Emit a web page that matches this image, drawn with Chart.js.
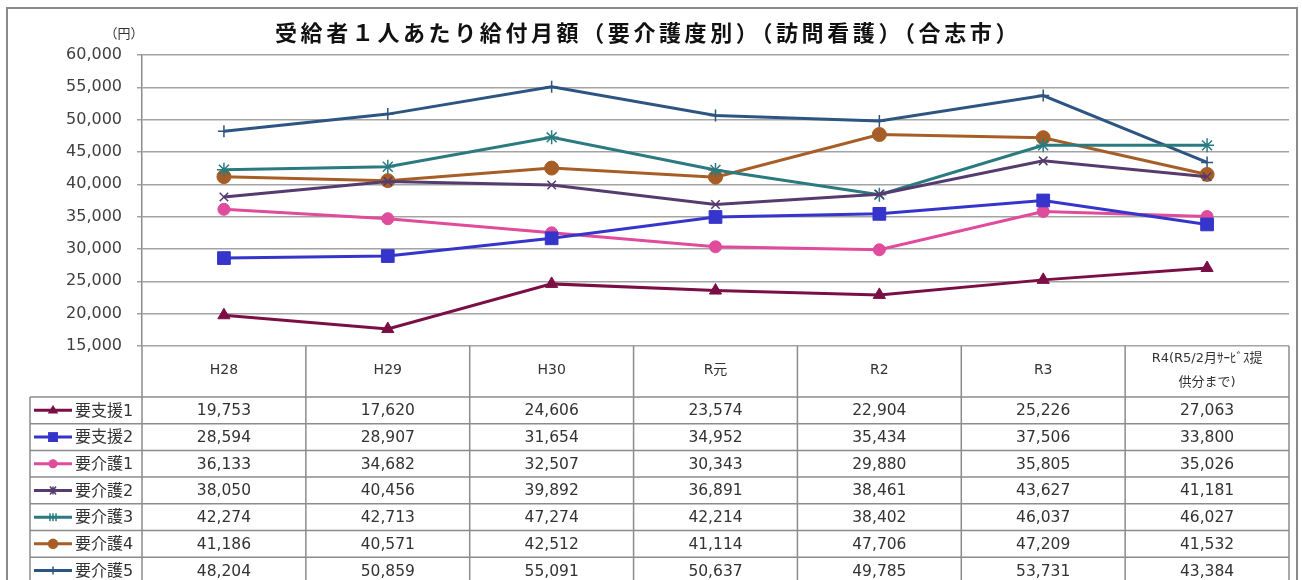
<!DOCTYPE html>
<html>
<head>
<meta charset="utf-8">
<script src="https://cdn.jsdelivr.net/npm/chart.js@4/dist/chart.umd.min.js"></script>
<style>
  html, body { margin: 0; padding: 0; background: #fff; }
  #wrap { width: 1302px; height: 580px; position: relative; }
</style>
</head>
<body>
<div id="wrap"><canvas id="chart" width="1302" height="580"></canvas></div>
<script>
// Data
const categories = ['H28', 'H29', 'H30', 'R元', 'R2', 'R3', ['R4(R5/2月ｻｰﾋﾞｽ提', '供分まで)']];
const seriesNames = ['要支援1', '要支援2', '要介護1', '要介護2', '要介護3', '要介護4', '要介護5'];
const shien1 = [19753, 17620, 24606, 23574, 22904, 25226, 27063];
const shien2 = [28594, 28907, 31654, 34952, 35434, 37506, 33800];
const kaigo1 = [36133, 34682, 32507, 30343, 29880, 35805, 35026];
const kaigo2 = [38050, 40456, 39892, 36891, 38461, 43627, 41181];
const kaigo3 = [42274, 42713, 47274, 42214, 38402, 46037, 46027];
const kaigo4 = [41186, 40571, 42512, 41114, 47706, 47209, 41532];
const kaigo5 = [48204, 50859, 55091, 50637, 49785, 53731, 43384];
const yTicks = [15000, 20000, 25000, 30000, 35000, 40000, 45000, 50000, 55000, 60000];

const seriesValues = [shien1, shien2, kaigo1, kaigo2, kaigo3, kaigo4, kaigo5];
const seriesColors = ['#7b0f45', '#3535cc', '#e04b9b', '#563c6e', '#2a7a80', '#a65e26', '#2d5582'];
const seriesMarkers = ['triangle', 'rect', 'circle', 'crossRot', 'star', 'circle', 'cross'];
const markerRadius = [7, 9, 6, 6, 7, 7, 6];

const TITLE = '受給者１人あたり給付月額（要介護度別）（訪問看護）（合志市）';
const FONT_NUM = '"DejaVu Sans", "Noto Sans CJK JP", sans-serif';
const GRID = '#a3a3a3';
const LINE = '#8c8c8c';

const fmt = v => v.toLocaleString('en-US');

// small marker painter for the legend column of the table
function drawMarker(ctx, style, x, y, r, color) {
  ctx.save();
  ctx.fillStyle = color;
  ctx.strokeStyle = color;
  ctx.lineWidth = 1.5;
  ctx.beginPath();
  if (style === 'circle') {
    ctx.arc(x, y, r * 0.75, 0, Math.PI * 2);
    ctx.fill();
  } else if (style === 'rect') {
    const s = r * 0.55;
    ctx.rect(x - s, y - s, s * 2, s * 2);
    ctx.fill();
  } else if (style === 'triangle') {
    const s = r * 0.75;
    ctx.moveTo(x, y - s);
    ctx.lineTo(x + s, y + s * 0.6);
    ctx.lineTo(x - s, y + s * 0.6);
    ctx.closePath();
    ctx.fill();
  } else {
    const s = 4;
    ctx.moveTo(x, y - s); ctx.lineTo(x, y + s);
    if (style === 'star') {
      ctx.moveTo(x - 3, y - s); ctx.lineTo(x - 3, y + s);
      ctx.moveTo(x + 3, y - s); ctx.lineTo(x + 3, y + s);
    }
    if (style === 'crossRot') {
      ctx.moveTo(x - 3, y - s); ctx.lineTo(x + 3, y + s);
      ctx.moveTo(x + 3, y - s); ctx.lineTo(x - 3, y + s);
    }
    ctx.stroke();
  }
  ctx.restore();
}

// frame, title and the data table under the plot
const tablePlugin = {
  id: 'tablePlugin',
  beforeDraw(chart) {
    const ctx = chart.ctx;
    ctx.save();
    ctx.fillStyle = '#fff';
    ctx.fillRect(0, 0, chart.width, chart.height);
    ctx.restore();
  },
  afterDraw(chart) {
    const ctx = chart.ctx;
    const area = chart.chartArea;
    const xs = chart.scales.x;
    const n = categories.length;
    const step = (area.right - area.left) / n;
    const bounds = [];
    for (let i = 0; i <= n; i++) bounds.push(area.left + i * step);

    ctx.save();
    // outer frame
    ctx.strokeStyle = '#8a8a8a';
    ctx.lineWidth = 2;
    ctx.strokeRect(7, 8, 1290, 620);

    // title
    ctx.fillStyle = '#111';
    ctx.font = 'bold 22px "Noto Sans CJK JP", sans-serif';
    ctx.textAlign = 'center';
    ctx.textBaseline = 'middle';
    ctx.letterSpacing = '3.6px';
    ctx.fillText(TITLE, 648, 33);
    ctx.letterSpacing = '0px';

    ctx.fillStyle = '#333';
    ctx.font = '13px "Noto Sans CJK JP", sans-serif';
    ctx.fillText('（円）', 124, 33);

    // table geometry
    const headTop = area.bottom;
    const headBottom = 397;
    const rowH = 26.7;
    const legLeft = 30;
    const tableBottom = headBottom + rowH * seriesNames.length;

    ctx.strokeStyle = LINE;
    ctx.lineWidth = 1.5;
    ctx.beginPath();
    // vertical lines through header and body
    bounds.forEach(b => { ctx.moveTo(b, headTop); ctx.lineTo(b, tableBottom + 10); });
    ctx.moveTo(legLeft, headBottom); ctx.lineTo(legLeft, tableBottom + 10);
    // horizontal row lines
    for (let r = 0; r <= seriesNames.length; r++) {
      const y = headBottom + r * rowH;
      ctx.moveTo(legLeft, y); ctx.lineTo(area.right, y);
    }
    ctx.stroke();

    // header labels
    ctx.fillStyle = '#333';
    ctx.font = '14px ' + FONT_NUM;
    ctx.textAlign = 'center';
    categories.forEach((c, i) => {
      const cx = xs.getPixelForValue(i);
      if (Array.isArray(c)) {
        ctx.font = '13px ' + FONT_NUM;
        ctx.fillText(c[0], cx, 359);
        ctx.fillText(c[1], cx, 383);
        ctx.font = '14px ' + FONT_NUM;
      } else {
        ctx.fillText(c, cx, 370);
      }
    });

    // body
    seriesNames.forEach((name, r) => {
      const cy = headBottom + r * rowH + rowH / 2;
      const col = seriesColors[r];
      ctx.save();
      ctx.strokeStyle = col;
      ctx.lineWidth = 3;
      ctx.beginPath();
      ctx.moveTo(34, cy); ctx.lineTo(72, cy);
      ctx.stroke();
      ctx.restore();
      drawMarker(ctx, seriesMarkers[r], 53, cy, markerRadius[r], col);

      ctx.fillStyle = '#333';
      ctx.textAlign = 'left';
      ctx.font = '16px ' + FONT_NUM;
      ctx.fillText(name, 75, cy + 1);

      ctx.textAlign = 'center';
      ctx.font = '15.5px ' + FONT_NUM;
      seriesValues[r].forEach((v, i) => {
        ctx.fillText(fmt(v), xs.getPixelForValue(i), cy + 1);
      });
    });
    ctx.restore();
  }
};

const datasets = seriesNames.map((name, i) => ({
  label: name,
  data: seriesValues[i],
  borderColor: seriesColors[i],
  backgroundColor: seriesColors[i],
  borderWidth: 3,
  pointStyle: seriesMarkers[i],
  pointRadius: markerRadius[i],
  pointBorderWidth: ['crossRot', 'star', 'cross'].includes(seriesMarkers[i]) ? 1.5 : 1,
  tension: 0
}));

new Chart(document.getElementById('chart'), {
  type: 'line',
  data: { labels: categories.map(c => Array.isArray(c) ? c.join('') : c), datasets },
  options: {
    responsive: false,
    animation: false,
    layout: { padding: { left: 0, top: 55, right: 13, bottom: 234 } },
    plugins: {
      legend: { display: false },
      title: { display: false },
      tooltip: { enabled: false }
    },
    scales: {
      x: { type: 'category', display: false, offset: true },
      y: {
        min: yTicks[0],
        max: yTicks[yTicks.length - 1],
        afterBuildTicks(scale) { scale.ticks = yTicks.map(v => ({ value: v })); },
        afterFit(scale) { scale.width = 142; },
        ticks: {
          padding: 15,
          color: '#404040',
          font: { family: FONT_NUM, size: 16 },
          callback: v => fmt(v)
        },
        grid: { color: GRID, lineWidth: 1.5, tickLength: 5, drawTicks: true },
        border: { color: LINE, width: 1.5 }
      }
    }
  },
  plugins: [tablePlugin]
});
</script>
</body>
</html>
